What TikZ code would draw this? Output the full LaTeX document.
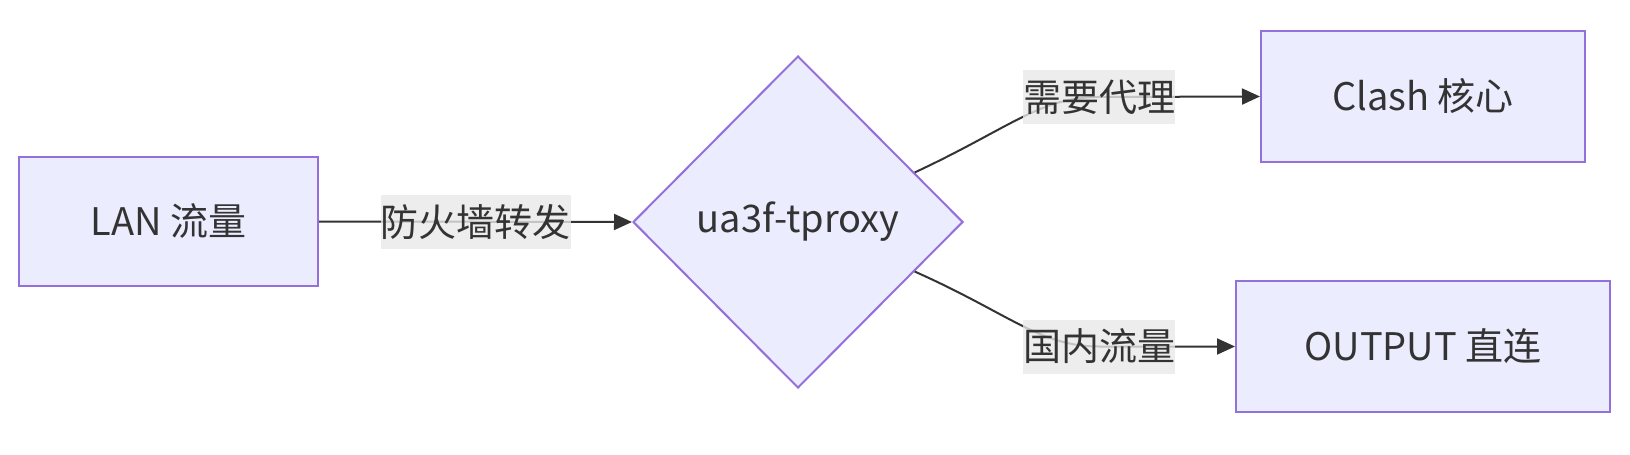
\documentclass[tikz,border=0pt]{standalone}
\usepackage{fontspec}
\setmainfont{Noto Sans CJK SC}
\usetikzlibrary{arrows.meta, shapes.geometric}
\definecolor{boxfill}{HTML}{ECECFF}
\definecolor{boxline}{HTML}{9370DB}
\definecolor{ink}{HTML}{333333}
\definecolor{lblfill}{HTML}{E8E8E8}
\tikzset{
    box/.style={draw=boxline, fill=boxfill, line width=1pt, inner sep=0pt, text=ink, font=\fontsize{19pt}{23pt}\selectfont},
    decide/.style={diamond, draw=boxline, fill=boxfill, line width=1pt, inner sep=0pt, text=ink,
        minimum width=165pt, minimum height=166pt, font=\fontsize{19pt}{23pt}\selectfont},
    lbl/.style={fill=lblfill, fill opacity=0.8, text opacity=1, text=ink, inner xsep=0pt, inner ysep=0pt,
        minimum height=27pt, font=\fontsize{19pt}{23pt}\selectfont},
    flow/.style={draw=ink, line width=1pt, -{Triangle[length=9pt,width=8pt]}},
}
\begin{document}
\begin{tikzpicture}[x=0.5pt,y=-0.5pt]
    \useasboundingbox (0,0) rectangle (1630,455);
    \node[box, minimum width=149.5pt, minimum height=64.5pt] (lan) at (168.5,221.5) {LAN 流量};
    \node[decide] (tproxy) at (798,222) {ua3f-tproxy};
    \node[box, minimum width=162pt, minimum height=65.5pt] (clash) at (1423,96.5) {Clash 核心};
    \node[box, minimum width=187pt, minimum height=65.5pt] (direct) at (1423,346.5) {OUTPUT 直连};
    % edges
    \draw[flow] (lan.east) -- node[lbl] {防火墙转发} (tproxy.west);
    \draw[flow] (tproxy.23) .. controls (1010,128) and (1040,97) .. (1099,97) node[lbl] {需要代理} -- (clash.west);
    \draw[flow] (tproxy.-23) .. controls (1010,314) and (1040,346.5) .. (1099,346.5) node[lbl] {国内流量} -- (direct.west);
\end{tikzpicture}
\end{document}
